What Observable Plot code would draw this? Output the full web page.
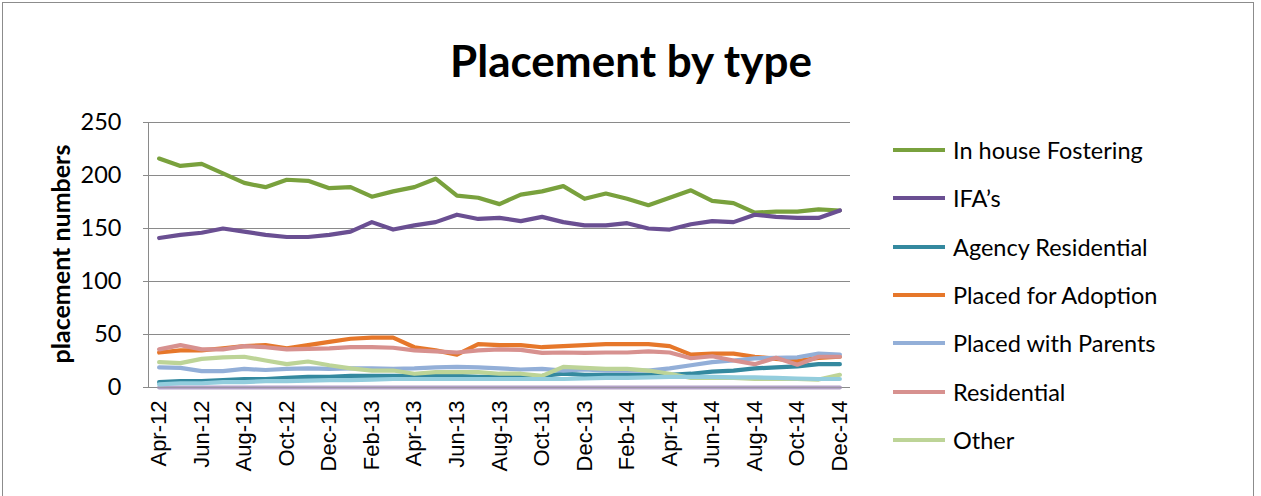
<!DOCTYPE html>
<html>
<head>
<meta charset="utf-8">
<script src="https://cdn.jsdelivr.net/npm/d3@7"></script>
<script src="https://cdn.jsdelivr.net/npm/@observablehq/plot@0.6"></script>
<style>
  body { margin: 0; background: #fff; overflow: hidden; }
  #wrap { position: relative; width: 1261px; height: 496px; overflow: hidden; background: #fff; }
  #frame { position: absolute; left: 2px; top: 2px; width: 1252px; height: 600px; border: 1px solid #8c8c8c; box-sizing: border-box; }
  #title { position: absolute; left: 0; top: 34px; width: 1262px; text-align: center; font: bold 44px Lato, sans-serif; color: #000; line-height: 52px; }
  #ylabel { position: absolute; left: 60px; top: 254px; transform: translate(-50%, -50%) rotate(-90deg); font: bold 25px Lato, sans-serif; white-space: nowrap; color: #000; }
  .leg { position: absolute; left: 893px; height: 30px; display: flex; align-items: center; font: 23.5px Lato, sans-serif; color: #000; white-space: nowrap; }
  .leg .sw { width: 52px; height: 4px; margin-right: 8px; }
  #chart { position: absolute; left: 0; top: 0; }
</style>
</head>
<body>
<div id="wrap">
  <div id="frame"></div>
  <div id="chart"></div>
  <div id="title">Placement by type</div>
  <div id="ylabel">placement numbers</div>
  <div id="legend"></div>
</div>
<script>
const months = ["Apr-12","May-12","Jun-12","Jul-12","Aug-12","Sep-12","Oct-12","Nov-12","Dec-12",
  "Jan-13","Feb-13","Mar-13","Apr-13","May-13","Jun-13","Jul-13","Aug-13","Sep-13","Oct-13","Nov-13","Dec-13",
  "Jan-14","Feb-14","Mar-14","Apr-14","May-14","Jun-14","Jul-14","Aug-14","Sep-14","Oct-14","Nov-14","Dec-14"];

const inHouseFostering = [216,209,211,202,193,189,196,195,188,189,180,185,189,197,181,179,173,182,185,190,178,183,178,172,179,186,176,174,165,166,166,168,167];
const ifas = [141,144,146,150,147,144,142,142,144,147,156,149,153,156,163,159,160,157,161,156,153,153,155,150,149,154,157,156,163,161,160,160,167];
const agencyResidential = [5,6,6,7,8,8,9,10,10,11,11,11,11,11,11,10,10,10,11,13,12,12,12,12,12,13,15,16,18,19,20,22,22];
const placedForAdoption = [33,35,35,37,39,40,37,40,43,46,47,47,38,35,31,41,40,40,38,39,40,41,41,41,39,31,32,32,29,27,25,28,29];
const placedWithParents = [19,18.5,15.5,15.5,17.5,16.5,17.5,18,17.5,18,18,17.5,18,19,19.5,19,18,17,17.5,16,17,16,16,16,18,21,24,25.5,27.5,28,28.5,32,31];
const residential = [36,40,36,36,39,38,36,36.5,37,38,38,37.5,35,34,33,35,36,35.5,32.7,33,32.7,33,33,34,33,27.6,29.5,25.5,22,28,21.5,29,29];
const other = [24,23,27,28.5,29,25.5,22,24.5,21,18,16,16,13,14.5,14.5,14.5,13,13,11,19.5,18.5,17.5,17.5,16,13,9,9,9,8,8,8,7.5,12];
const series8 = [0,0,0,0,0,0,0,0,0,0,0,0,0,0,0,0,0,0,0,0,0,0,0,0,0,0,0,0,0,0,0,0,0];
const series9 = [3,4,4,5,5,6,6,6.5,7,7,7.5,8,8,8,8,8,8,8,8,8,8.5,9,9,9.5,10,10,10,9.5,9.5,9,8.5,8,8];

const yTicks = [0,50,100,150,200,250];
const xTickIdx = months.map((m,i)=>i).filter(i=>i%2===0);

const series = [
  {name: "In house Fostering", values: inHouseFostering, color: "#79a13d", legend: true},
  {name: "IFA’s", values: ifas, color: "#6a4f92", legend: true},
  {name: "Agency Residential", values: agencyResidential, color: "#34899f", legend: true},
  {name: "Placed for Adoption", values: placedForAdoption, color: "#e6772a", legend: true},
  {name: "Placed with Parents", values: placedWithParents, color: "#93afd8", legend: true},
  {name: "Residential", values: residential, color: "#d7918f", legend: true},
  {name: "Other", values: other, color: "#bdd497", legend: true},
  {name: "series8", values: series8, color: "#b3a2c7", legend: false},
  {name: "series9", values: series9, color: "#93cddd", legend: false}
];

const chart = Plot.plot({
  width: 1261,
  height: 496,
  marginLeft: 148,
  marginRight: 411,
  marginTop: 122,
  marginBottom: 109,
  style: {fontFamily: "Lato, sans-serif", background: "transparent", overflow: "visible"},
  x: {type: "linear", domain: [-0.5, months.length - 0.5]},
  y: {domain: [0, 250]},
  marks: [
    Plot.gridY(yTicks, {stroke: "#8a8a8a", strokeOpacity: 1, strokeWidth: 1}),
    Plot.ruleX([-0.5], {stroke: "#8a8a8a", strokeWidth: 1}),
    Plot.axisY({ticks: yTicks, tickSize: 5, tickPadding: 22, fontSize: 23.5, fontFamily: "Lato, sans-serif", stroke: "#8a8a8a", fill: "#000", label: null}),
    Plot.axisX({ticks: xTickIdx, tickFormat: i => months[i], tickRotate: -90, tickSize: 0, tickPadding: 13, fontSize: 22, fontFamily: "Liberation Sans, Arial, sans-serif", fill: "#000", label: null}),
    ...series.map(s => Plot.line(s.values, {x: (d,i) => i, y: d => d, stroke: s.color, strokeWidth: 4.2, strokeLinejoin: "round", strokeLinecap: "round"})),
    Plot.ruleY([0], {stroke: "#8a8a8a", strokeWidth: 1, strokeOpacity: 0.6})
  ]
});
document.getElementById("chart").appendChild(chart);

const legend = document.getElementById("legend");
series.filter(s => s.legend).forEach((s, k) => {
  const row = document.createElement("div");
  row.className = "leg";
  row.style.top = (150 + 48.3 * k - 15) + "px";
  const sw = document.createElement("div");
  sw.className = "sw";
  sw.style.background = s.color;
  const tx = document.createElement("span");
  tx.textContent = s.name;
  row.appendChild(sw);
  row.appendChild(tx);
  legend.appendChild(row);
});
</script>
</body>
</html>
